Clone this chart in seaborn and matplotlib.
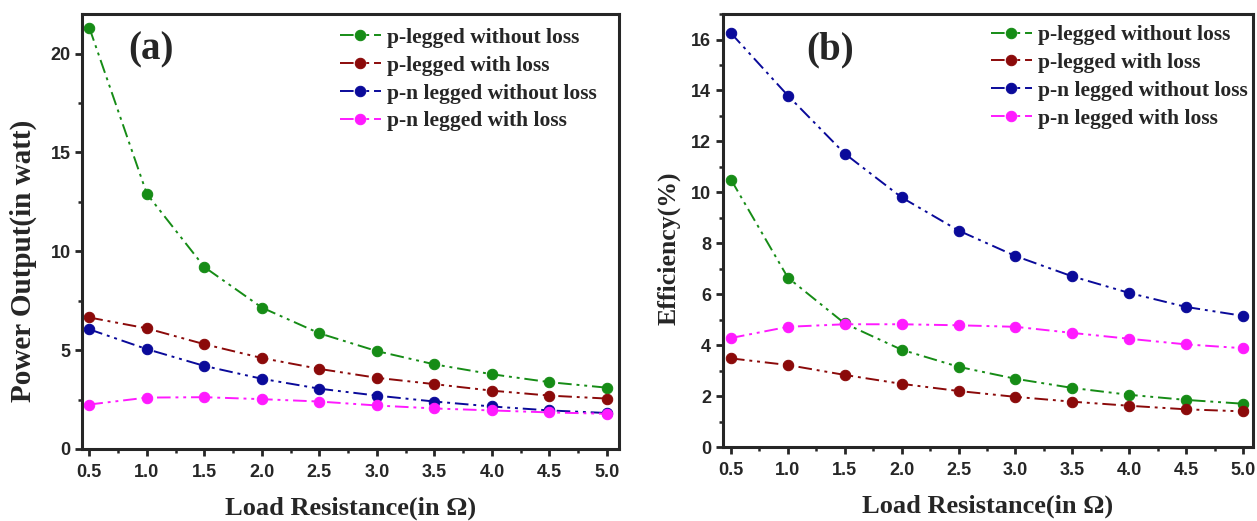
import numpy as np
import pandas as pd
import matplotlib
matplotlib.use("Agg")
import matplotlib.pyplot as plt
import seaborn as sns
from matplotlib.ticker import MultipleLocator

# ---- data ----
resistance = [0.5, 1.0, 1.5, 2.0, 2.5, 3.0, 3.5, 4.0, 4.5, 5.0]
series_names = ["p-legged without loss", "p-legged with loss",
                "p-n legged without loss", "p-n legged with loss"]

power_p_noloss = [21.3, 12.9, 9.2, 7.15, 5.85, 4.95, 4.28, 3.78, 3.38, 3.1]
power_p_loss = [6.65, 6.1, 5.3, 4.6, 4.05, 3.6, 3.28, 2.95, 2.7, 2.55]
power_pn_noloss = [6.05, 5.05, 4.2, 3.55, 3.05, 2.7, 2.4, 2.15, 1.95, 1.82]
power_pn_loss = [2.25, 2.6, 2.62, 2.52, 2.4, 2.2, 2.05, 1.95, 1.85, 1.78]

eff_p_noloss = [10.5, 6.65, 4.85, 3.82, 3.15, 2.68, 2.32, 2.05, 1.85, 1.7]
eff_p_loss = [3.48, 3.22, 2.83, 2.48, 2.2, 1.97, 1.78, 1.62, 1.48, 1.4]
eff_pn_noloss = [16.25, 13.8, 11.52, 9.8, 8.5, 7.5, 6.7, 6.05, 5.5, 5.15]
eff_pn_loss = [4.28, 4.72, 4.82, 4.82, 4.78, 4.72, 4.48, 4.25, 4.03, 3.88]

colors = ["#168c16", "#8b0a0a", "#0a0a9a", "#ff1aff"]

def long_df(values):
    rows = []
    for name, vals in zip(series_names, values):
        for x, y in zip(resistance, vals):
            rows.append({"R": x, "val": y, "series": name})
    return pd.DataFrame(rows)

df_power = long_df([power_p_noloss, power_p_loss, power_pn_noloss, power_pn_loss])
df_eff = long_df([eff_p_noloss, eff_p_loss, eff_pn_noloss, eff_pn_loss])

sns.set_theme(style="ticks")
serif = ["Liberation Serif", "DejaVu Serif"]
sans = ["Liberation Sans", "DejaVu Sans"]
plt.rcParams["font.family"] = sans

fig = plt.figure(figsize=(12.57, 5.21), dpi=100)
ax1 = fig.add_axes([0.0656, 0.1382, 0.4268, 0.835])
ax2 = fig.add_axes([0.5752, 0.142, 0.4216, 0.831])

dash = (0, (7, 2.5, 1.5, 2.5, 1.5, 2.5))

def draw(ax, df, xlim, ylim, ymajor, yminor, ylabel, ylsize, ylcoords,
         tag, tagx, legxy):
    for name, c in zip(series_names, colors):
        sub = df[df["series"] == name]
        sns.lineplot(data=sub, x="R", y="val", ax=ax, color=c, marker="o",
                     markersize=7.5, markeredgecolor=c, markerfacecolor=c,
                     linewidth=1.4, linestyle=dash, label=name)
    ax.set_xlim(*xlim)
    ax.set_ylim(*ylim)
    ax.set_xticks(resistance)
    ax.set_xticklabels([f"{v:.1f}" for v in resistance])
    ax.xaxis.set_minor_locator(MultipleLocator(0.25))
    ax.yaxis.set_major_locator(MultipleLocator(ymajor))
    ax.yaxis.set_minor_locator(MultipleLocator(yminor))
    ax.tick_params(which="major", direction="out", length=5, width=2,
                   labelsize=13, pad=3.5)
    ax.tick_params(axis="x", which="major", pad=6)
    ax.tick_params(which="minor", direction="out", length=3, width=1.8)
    for lab in ax.get_xticklabels() + ax.get_yticklabels():
        lab.set_fontweight("bold")
        lab.set_family(sans)
    for s in ax.spines.values():
        s.set_linewidth(2.2)
        s.set_visible(True)
    ax.set_xlabel("Load Resistance(in Ω)", fontsize=19, fontweight="bold",
                  family=serif, labelpad=11)
    ax.set_ylabel(ylabel, fontsize=ylsize, fontweight="bold", family=serif)
    ax.yaxis.set_label_coords(*ylcoords)
    ax.legend(loc="upper right", bbox_to_anchor=legxy, frameon=False,
              handlelength=1.9, handletextpad=0.3, labelspacing=0.36,
              borderaxespad=0.35, borderpad=0.3,
              prop={"family": serif, "weight": "bold", "size": 15.5})
    ax.text(tagx, 0.96, tag, transform=ax.transAxes, fontsize=28,
            fontweight="bold", family=serif, va="top", ha="left")

draw(ax1, df_power, (0.44, 5.104), (0, 22), 5, 2.5, "Power Output(in watt)", 21,
     (-0.085, 0.433), "(a)", 0.085, (1 - 8 / 536, 1.0))
draw(ax2, df_eff, (0.43, 5.088), (0, 17), 2, 1, "Efficiency(%)", 18.5,
     (-0.081, 0.46), "(b)", 0.157, (1 + 9 / 530, 1 + 3 / 433))

fig.savefig("out.png", dpi=100)
